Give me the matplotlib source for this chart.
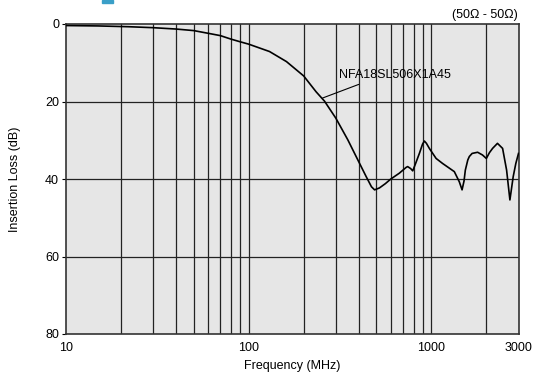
import matplotlib
matplotlib.use("Agg")
import matplotlib.pyplot as plt
from matplotlib.patches import Rectangle
from matplotlib.ticker import NullLocator, NullFormatter

plt.rcParams["font.family"] = ["Liberation Sans", "DejaVu Sans"]

# insertion loss (MHz, dB)
freq = [10, 15, 22, 30, 40, 50, 60, 70, 80, 90, 100, 130, 161, 200, 234, 260,
        300, 349, 400, 440, 470, 489, 520, 560, 600, 668, 728, 742, 770, 791,
        820, 860, 895, 916, 940, 975, 1062, 1153, 1336, 1422, 1473, 1510, 1535,
        1583, 1614, 1672, 1792, 1905, 2000, 2080, 2164, 2301, 2455, 2582, 2692,
        2806, 2900, 3000]
loss = [0.4, 0.5, 0.7, 0.95, 1.3, 1.7, 2.4, 3.0, 3.9, 4.6, 5.2, 7.1, 9.7, 13.4,
        17.5, 19.9, 24.3, 29.9, 35.5, 39.4, 42.0, 42.8, 42.3, 41.2, 40.0, 38.5,
        37.0, 36.8, 37.3, 37.9, 36.0, 33.4, 31.0, 30.2, 30.8, 32.1, 34.7, 36.0,
        38.1, 40.7, 42.8, 40.5, 37.7, 35.1, 34.2, 33.4, 33.1, 33.8, 34.7, 33.2,
        32.1, 30.8, 32.1, 37.7, 45.4, 39.4, 36.0, 33.4]

xticks = [10, 100, 1000, 3000]
xticklabels = ["10", "100", "1000", "3000"]
yticks = [0, 20, 40, 60, 80]
vgrid = [20, 30, 40, 50, 60, 70, 80, 90, 100, 200, 300, 400, 500, 600, 700,
         800, 900, 1000, 2000]
part = "NFA18SL506X1A45"

fig = plt.figure(figsize=(5.33, 3.76), dpi=100)
ax = fig.add_axes([66 / 533, 42 / 376, 452.5 / 533, 310 / 376])
ax.set_facecolor("#e6e6e6")

for f in vgrid:
    ax.axvline(f, color="#222222", lw=0.9, zorder=1)
for y in yticks[1:-1]:
    ax.axhline(y, color="#222222", lw=0.9, zorder=1)

ax.plot(freq, loss, color="black", lw=1.2, zorder=3)

ax.set_xscale("log")
ax.set_xlim(10, 3000)
ax.set_ylim(80, 0)
ax.set_xticks(xticks)
ax.set_xticklabels(xticklabels)
ax.xaxis.set_minor_locator(NullLocator())
ax.xaxis.set_minor_formatter(NullFormatter())
ax.set_yticks(yticks)
ax.tick_params(axis="x", length=0, pad=6, labelsize=9)
ax.tick_params(axis="y", length=3, width=0.8, pad=2, labelsize=9)

for s in ax.spines.values():
    s.set_color("#333333")
    s.set_linewidth(1.2)

ax.set_xlabel("Frequency (MHz)", fontsize=9, labelpad=4)
ax.set_ylabel("Insertion Loss (dB)", fontsize=9, labelpad=17)

# part label with leader line
ax.annotate(part, xy=(254, 19.1), xytext=(635, 13.2), fontsize=9,
            ha="center", va="center", zorder=4,
            arrowprops=dict(arrowstyle="-", color="black", lw=0.8,
                            shrinkA=1, shrinkB=0,
                            relpos=(0.25, 0.0)))

fig.text(518 / 533, 1 - 15 / 376, "(50\u03a9 - 50\u03a9)", fontsize=9,
         ha="right", va="center")

# small blue mark at the top edge
fig.patches.append(Rectangle((102 / 533, 1 - 3 / 376), 11 / 533, 3 / 376,
                             transform=fig.transFigure, color="#3a9fc8"))

fig.savefig("out.png", dpi=100)
